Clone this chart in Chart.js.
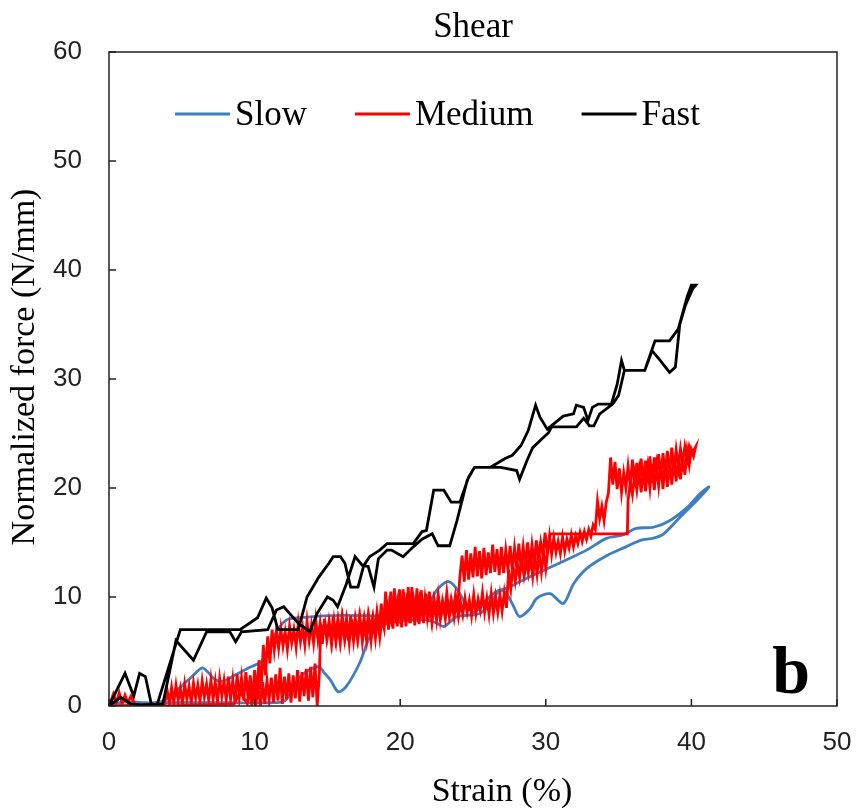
<!DOCTYPE html>
<html>
<head>
<meta charset="utf-8">
<script src="https://cdn.jsdelivr.net/npm/chart.js@4.4.1/dist/chart.umd.min.js"></script>
<style>
  html, body { margin: 0; padding: 0; background: #fff; }
  #wrap { width: 856px; height: 811px; }
</style>
</head>
<body>
<div id="wrap"><canvas id="shearChart"></canvas></div>
<script>
// series names and colours
const seriesNames = ['Slow', 'Medium', 'Fast'];
const seriesColors = ['#3d7fc1', '#ff0000', '#000000'];
const xTitle = 'Strain (%)';
const yTitle = 'Normalized force (N/mm)';

// [strain %, normalized force N/mm] -- each test traced out and back as a loop
const slowCurve = [
    [0,0],[1.1,0.4],[2.5,0.3],[3.6,0.4],[4.8,1.6],[5.7,2.7],[6.4,3.5],[6.8,3.1],[7.3,2.4],[7.9,2.3],
    [8.6,2.8],[9.6,3.5],[10.5,4.1],[10.9,5.1],[11.5,6.8],[12.2,7.9],[13.1,8.1],[15.2,8.3],[17.7,8.3],
    [20.0,8.2],[20.7,8.3],[21.8,9.1],[22.5,10.6],[23.2,11.4],[23.6,11.2],[24.1,10.3],[24.6,9.1],
    [25.1,8.6],[25.9,9.7],[26.6,10.5],[27.3,10.8],[28.2,11.4],[29.6,12.3],[31.4,13.4],[32.8,14.3],
    [34.2,15.4],[35.3,15.7],[36.2,16.3],[37.4,16.4],[38.5,17.0],[39.7,18.2],[40.6,19.5],[41.2,20.1],
    [40.4,18.9],[39.2,17.3],[38.1,15.8],[37.4,15.4],[36.5,15.2],[35.5,14.6],[34.2,13.8],[32.8,12.6],
    [31.9,11.2],[31.2,9.4],[30.3,10.3],[29.4,9.9],[28.9,8.9],[28.2,8.2],[27.8,9.1],[27.3,10.3],
    [26.9,10.6],[26.4,9.9],[25.5,8.5],[23.9,8.2],[23.0,7.3],[22.5,7.6],[21.8,7.9],[19.5,7.7],
    [18.6,7.3],[17.9,6.3],[17.2,3.9],[16.3,1.8],[15.75,1.3],[15.2,2.4],[14.8,3.0],[14.4,3.6],
    [13.5,3.1],[12.8,2.1],[12.1,0.5],[11.0,0.3],[8.0,0.3],[4.0,0.3],[0,0]
];

const mediumCurve = [
    // loading
    [0,0],[0.3,1.1],[0.5,0.3],[0.7,1.2],[0.9,0.2],[1.1,1.0],[1.3,0.3],[1.5,0.9],[1.8,0.1],[3.8,0.1],
    [4.0,1.4],[4.15,0.2],[4.3,1.7],[4.45,0.3],[4.6,1.9],[4.75,0.5],[4.9,1.6],[5.05,0.2],[5.2,2.0],
    [5.35,0.6],[5.5,1.8],[5.65,0.3],[5.8,2.1],[5.95,0.7],[6.1,1.9],[6.25,0.4],[6.4,2.3],[6.55,0.8],
    [6.7,2.0],[6.85,0.5],[7.0,2.4],[7.15,0.6],[7.3,2.2],[7.45,0.4],[7.6,2.5],[7.75,0.9],[7.9,2.3],
    [8.05,0.5],[8.2,2.7],[8.35,0.6],[8.5,2.4],[8.65,0.3],[8.8,2.9],[8.95,0.8],[9.1,2.6],[9.25,0.5],
    [9.4,3.1],[9.55,0.7],[9.7,2.8],[9.85,0.4],[10.0,3.3],[10.15,1.0],[10.3,4.2],[10.45,1.5],[10.6,5.6],
    [10.75,2.8],[10.9,6.4],[11.05,3.9],[11.2,7.0],
    [11.35,5.1],[11.5,6.9],[11.65,5.3],[11.8,7.1],[11.95,5.5],[12.1,6.8],[12.25,5.2],[12.4,7.3],
    [12.55,5.8],[12.7,7.0],[12.85,5.4],[13.0,7.6],[13.15,5.9],[13.3,7.2],[13.45,5.6],[13.6,7.8],
    [13.75,6.0],[13.9,7.4],[14.05,5.8],[14.2,7.9],[14.35,6.1],[14.5,7.6],[14.65,5.7],[14.8,8.0],
    [14.95,6.2],[15.1,7.7],[15.25,6.0],[15.4,8.2],[15.55,6.3],[15.7,7.8],[15.85,6.1],[16.0,8.1],
    [16.15,6.4],[16.3,7.9],[16.45,6.0],[16.6,8.3],[16.75,6.5],[16.9,8.0],[17.05,6.3],[17.2,8.2],
    [17.35,6.6],[17.5,7.9],[17.65,6.4],[17.8,8.3],[17.95,6.9],[18.1,8.1],[18.25,6.7],[18.4,8.6],
    [18.55,7.0],[18.7,9.4],
    [18.85,7.2],[19.0,10.5],[19.15,7.4],[19.3,10.1],[19.45,7.3],[19.6,10.8],[19.75,7.6],[19.9,10.4],
    [20.05,7.5],[20.2,10.7],[20.35,7.8],[20.5,10.3],[20.65,7.6],[20.8,10.9],[20.95,7.9],[21.1,10.2],
    [21.25,7.7],[21.4,10.5],[21.55,8.0],[21.7,9.9],[21.85,8.2],[22.0,10.5],[22.15,8.1],[22.3,9.7],
    [22.45,8.3],[22.6,10.1],[22.75,8.0],[22.9,9.6],[23.05,8.4],[23.2,10.4],[23.35,8.5],[23.5,9.8],
    [23.65,8.7],[23.8,10.2],[23.95,9.1],
    [24.1,11.9],[24.25,13.8],[24.4,11.4],[24.55,14.3],[24.7,11.6],[24.85,14.0],[25.0,11.8],[25.15,14.6],
    [25.3,11.9],[25.45,14.2],[25.6,11.7],[25.75,14.5],[25.9,12.0],[26.05,14.1],[26.2,12.2],[26.35,14.8],
    [26.5,12.3],[26.65,14.4],[26.8,12.0],[26.95,14.6],[27.1,12.2],[27.25,14.3],[27.4,12.5],[27.55,14.7],
    [27.7,12.4],[27.85,14.5],[28.0,12.7],[28.15,14.9],[28.3,12.6],[28.45,14.6],[28.6,12.9],[28.75,15.0],
    [28.9,12.8],[29.05,14.8],[29.2,13.1],[29.35,15.2],[29.5,13.3],[29.65,15.0],[29.8,13.8],[29.95,15.9],
    [30.1,14.0],[30.25,15.6],[30.4,13.9],[30.55,15.4],[30.7,14.1],[30.85,15.1],[31.0,14.0],[31.15,15.5],
    [31.3,14.2],[31.45,15.3],[31.6,14.5],[31.75,15.7],[31.9,14.6],[32.05,15.6],[32.2,14.9],[32.35,15.9],
    [32.5,15.1],[32.65,16.0],[32.8,15.3],[32.95,16.2],[33.1,15.6],[33.25,16.6],[33.4,16.2],
    [33.55,18.8],[33.7,17.2],[33.85,18.3],[34.0,17.0],[34.15,18.7],[34.3,19.5],[34.45,22.8],[34.6,20.3],
    [34.75,22.4],[34.9,19.9],[35.05,21.8],[35.2,19.6],[35.35,21.4],[35.5,20.0],[35.65,22.0],[35.8,20.2],
    [35.95,22.6],[36.1,20.1],[36.25,22.3],[36.4,20.4],[36.55,22.7],[36.7,20.3],[36.85,22.5],[37.0,20.6],
    [37.15,22.9],[37.3,20.5],[37.45,22.8],[37.6,20.9],[37.75,23.1],[37.9,21.0],[38.05,23.2],[38.2,21.2],
    [38.35,23.4],[38.5,21.1],[38.65,23.7],[38.8,21.6],[38.95,23.5],[39.1,21.9],[39.25,23.6],[39.4,22.3],
    [39.55,23.8],[39.7,22.6],[39.85,23.8],[40.0,23.1],[40.3,23.8],
    // unloading
    [40.15,22.9],[40.0,23.5],[39.85,22.1],[39.7,23.4],[39.55,21.2],[39.4,23.1],[39.25,20.8],[39.1,22.9],
    [38.95,20.6],[38.8,22.7],[38.65,20.3],[38.5,22.5],[38.35,20.1],[38.2,22.6],[38.05,19.9],[37.9,22.3],
    [37.75,20.2],[37.6,22.0],[37.45,19.8],[37.3,22.2],[37.15,20.0],[37.0,21.8],[36.85,19.7],[36.7,21.9],
    [36.55,19.6],[36.4,21.5],[36.25,19.8],[36.1,21.2],[35.95,19.4],[35.8,20.6],[35.65,18.8],[35.6,15.8],
    [30.3,15.8],
    [30.15,14.4],[30.0,12.6],[29.85,14.2],[29.7,12.3],[29.55,14.0],[29.4,12.1],[29.25,13.8],[29.1,11.9],
    [28.95,13.7],[28.8,12.2],[28.65,13.5],[28.5,12.0],[28.35,13.4],[28.2,11.8],[28.05,13.1],[27.9,11.5],
    [27.75,12.9],[27.6,10.8],[27.45,12.5],[27.3,9.0],
    [27.15,10.4],[27.0,8.7],[26.85,10.2],[26.7,8.6],[26.55,10.0],[26.4,8.5],[26.25,10.3],[26.1,8.4],
    [25.95,9.9],[25.8,8.6],[25.65,10.4],[25.5,8.8],[25.35,9.8],[25.2,8.5],[25.05,10.2],[24.9,8.3],
    [24.75,9.7],[24.6,8.6],[24.45,9.9],[24.3,8.4],[24.15,9.5],[24.0,8.2],[23.85,9.6],[23.7,8.1],
    [23.55,9.4],[23.4,8.3],[23.25,9.6],[23.1,8.0],[22.95,9.3],[22.8,8.2],[22.65,9.8],[22.5,7.9],
    [22.35,9.5],[22.2,7.8],[22.05,10.0],[21.9,7.7],[21.75,10.3],[21.6,7.6],[21.45,10.6],[21.3,7.5],
    [21.15,10.8],[21.0,7.4],[20.85,10.5],[20.7,7.6],[20.55,10.9],[20.4,7.3],[20.25,10.4],[20.1,7.2],
    [19.95,10.7],[19.8,7.3],[19.65,10.2],[19.5,7.1],[19.35,10.5],[19.2,7.0],[19.05,9.8],[18.9,7.1],
    [18.75,8.0],[18.6,6.3],[18.45,8.1],[18.3,6.2],[18.15,7.9],[18.0,6.0],[17.85,8.0],[17.7,6.1],
    [17.55,7.8],[17.4,5.9],[17.25,7.9],[17.1,6.2],[16.95,7.7],[16.8,6.0],[16.65,8.0],[16.5,5.8],
    [16.35,7.6],[16.2,6.1],[16.05,7.9],[15.9,5.9],[15.75,7.7],[15.6,6.0],[15.45,7.8],[15.3,5.8],
    [15.15,7.5],[15.0,6.3],[14.85,7.6],[14.7,6.5],[14.55,7.4],[14.45,3.0],[14.3,0.0],
    [14.15,3.9],[14.0,0.8],[13.85,3.6],[13.7,0.5],[13.55,3.4],[13.4,0.9],[13.25,3.1],[13.1,0.4],
    [12.95,3.3],[12.8,0.7],[12.65,2.8],[12.5,0.3],[12.35,3.0],[12.2,0.6],[12.05,2.7],[11.9,0.2],
    [11.75,3.5],[11.6,0.5],[11.45,2.9],[11.3,0.3],[11.15,2.6],[11.0,0.6],[10.85,2.4],[10.7,0.2],
    [10.55,2.2],[10.4,0.0],[10.25,1.8],[10.1,0.3],[9.95,1.9],[9.8,0.1],[9.65,1.6],[9.5,0.2],
    [9.0,1.3],[8.6,0.2],[4.0,0.0],[0,0]
];

const fastCurve = [
    [0,0],[1.1,3.0],[1.7,0.9],[2.1,3.0],[2.5,2.7],[2.9,0.2],[3.3,0.1],[4.9,7.0],[9.0,7.0],
    [10.2,8.1],[10.8,9.9],[11.2,9.0],[11.6,7.0],[13.0,7.0],[13.6,10.0],[14.4,11.8],[15.1,13.1],
    [15.4,13.7],[15.9,13.7],[16.2,13.1],[16.6,10.9],[17.1,10.9],[17.5,12.9],[17.9,13.7],[18.6,14.3],
    [19.1,14.9],[20.9,14.9],[21.5,16.0],[21.8,16.1],[22.3,19.8],[23.0,19.8],[23.5,18.7],[24.1,18.7],
    [24.7,21.0],[25.1,21.9],[26.2,21.9],[27.2,22.7],[27.7,23.0],[28.3,23.9],[28.8,25.3],[29.3,27.6],
    [29.6,26.5],[30.1,25.4],[31.2,26.6],[31.9,26.8],[32.1,27.6],[32.6,27.4],[32.9,26.2],[33.2,27.4],
    [33.6,27.7],[34.5,27.7],[34.9,29.5],[35.2,31.7],[35.4,30.8],[36.8,30.8],[37.5,33.5],[38.5,33.5],
    [39.1,34.6],[39.7,37.5],[40.0,38.6],[40.3,38.6],
    [40.1,38.3],[39.6,36.8],[39.2,35.0],[38.9,31.1],[38.5,30.6],[37.8,31.8],[37.3,32.6],[36.8,30.8],
    [35.4,30.8],[35.0,28.5],[34.6,27.7],[33.7,26.8],[33.3,25.7],[33.0,25.7],[32.6,26.4],[32.1,25.6],
    [30.4,25.6],[30.2,25.1],[29.1,23.7],[28.7,22.5],[28.2,20.8],[28.0,21.6],[26.9,21.9],[25.1,21.9],
    [24.6,20.7],[23.9,17.0],[23.4,14.7],[22.6,14.7],[22.2,15.8],[21.5,15.3],[20.9,14.6],[20.2,13.7],
    [19.4,14.3],[19.1,14.3],[18.5,13.5],[18.2,10.9],[17.8,12.8],[17.4,12.9],[16.9,13.7],[16.3,11.2],
    [15.7,9.1],[15.4,9.7],[15.0,10.0],[14.3,8.5],[13.8,6.8],[13.0,7.6],[12.4,8.5],[12.0,9.1],
    [11.5,8.8],[10.9,7.0],[9.1,6.8],[8.7,5.9],[8.3,6.8],[6.7,6.8],[5.8,4.2],[4.6,6.0],[3.7,0.2],
    [2.2,0.1],[1.5,0.2],[0.8,0.8],[0,0]
];

const curves = [slowCurve, mediumCurve, fastCurve];
const xTicks = [0, 10, 20, 30, 40, 50];
const yTicks = [0, 10, 20, 30, 40, 50, 60];

const serif = '"Liberation Serif", "Times New Roman", serif';
const sans = '"Liberation Sans", Arial, sans-serif';

// frame, inward tick marks, axis titles, in-plot legend and the panel letter
const decorations = {
    id: 'decorations',
    afterDraw(chart) {
        const ctx = chart.ctx;
        const area = chart.chartArea;
        const xs = chart.scales.x;
        const ys = chart.scales.y;
        ctx.save();
        ctx.strokeStyle = '#222';
        ctx.lineWidth = 1.5;
        ctx.strokeRect(area.left, area.top, area.right - area.left, area.bottom - area.top);
        ctx.beginPath();
        yTicks.forEach(v => {
            const py = ys.getPixelForValue(v);
            ctx.moveTo(area.left, py);
            ctx.lineTo(area.left + 7, py);
        });
        xTicks.forEach(v => {
            const px = xs.getPixelForValue(v);
            ctx.moveTo(px, area.bottom);
            ctx.lineTo(px, area.bottom - 7);
        });
        ctx.stroke();

        // axis titles
        ctx.fillStyle = '#000';
        ctx.font = '34px ' + serif;
        ctx.textAlign = 'center';
        ctx.textBaseline = 'middle';
        ctx.fillText(xTitle, area.left + 393, area.bottom + 86);
        ctx.save();
        ctx.translate(25, area.top + 315);
        ctx.rotate(-Math.PI / 2);
        ctx.fillText(yTitle, 0, 0);
        ctx.restore();

        // legend
        ctx.font = '35px ' + serif;
        ctx.textBaseline = 'middle';
        ctx.textAlign = 'left';
        let lx = area.left + 66;
        const ly = area.top + 62;
        seriesNames.forEach((name, i) => {
            ctx.strokeStyle = seriesColors[i];
            ctx.lineWidth = 3;
            ctx.beginPath();
            ctx.moveTo(lx, ly);
            ctx.lineTo(lx + 55, ly);
            ctx.stroke();
            ctx.fillStyle = '#000';
            ctx.fillText(name, lx + 60, ly + 2);
            lx += 60 + ctx.measureText(name).width + 48;
        });

        // panel letter
        ctx.font = 'bold 68px ' + serif;
        ctx.textAlign = 'right';
        ctx.textBaseline = 'alphabetic';
        ctx.fillStyle = '#000';
        ctx.fillText('b', area.right - 27, area.bottom - 13);
        ctx.restore();
    }
};

const shearChart = new Chart(document.getElementById('shearChart').getContext('2d'), {
    type: 'scatter',
    data: {
        datasets: curves.map((c, i) => ({
            label: seriesNames[i],
            data: c.map(p => ({ x: p[0], y: p[1] })),
            showLine: true,
            borderColor: seriesColors[i],
            backgroundColor: seriesColors[i],
            borderWidth: 2.8,
            pointRadius: 0,
            tension: i === 0 ? 0.3 : 0,
            order: 3 - i
        }))
    },
    options: {
        responsive: true,
        maintainAspectRatio: false,
        animation: false,
        layout: { padding: { left: 0, right: 19, top: 0, bottom: 0 } },
        plugins: {
            legend: { display: false },
            tooltip: { enabled: false },
            title: {
                display: true,
                fullSize: false,
                text: 'Shear',
                color: '#000',
                font: { family: serif, size: 35, weight: 'normal' },
                padding: { top: 7, bottom: 3 }
            }
        },
        scales: {
            x: {
                type: 'linear',
                min: 0,
                max: 50,
                afterFit: s => { s.height = 105; s.paddingLeft = 0; s.paddingRight = 0; },
                grid: { display: false, drawTicks: false },
                border: { display: false },
                ticks: {
                    stepSize: 10,
                    padding: 21,
                    color: '#222',
                    font: { family: sans, size: 26 }
                }
            },
            y: {
                type: 'linear',
                min: 0,
                max: 60,
                afterFit: s => { s.width = 109; },
                grid: { display: false, drawTicks: false },
                border: { display: false },
                ticks: {
                    stepSize: 10,
                    padding: 27,
                    color: '#222',
                    font: { family: sans, size: 26 }
                }
            }
        }
    },
    plugins: [decorations]
});
</script>
</body>
</html>
